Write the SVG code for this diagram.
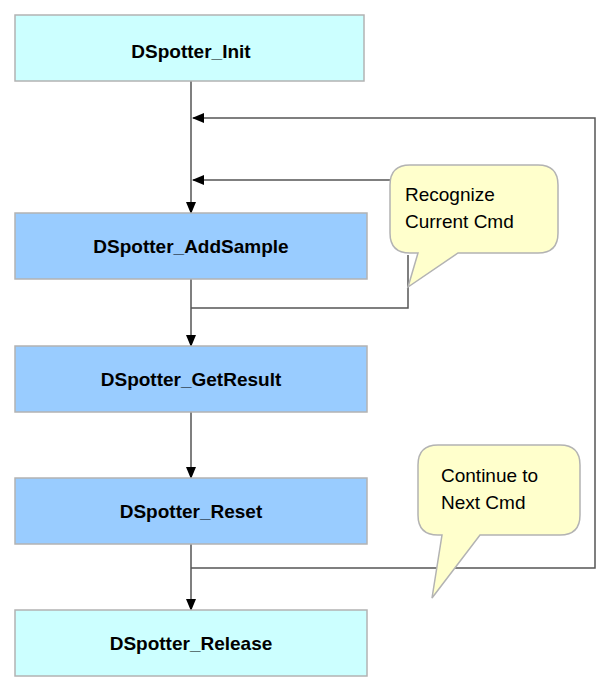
<svg xmlns="http://www.w3.org/2000/svg" width="615" height="692" viewBox="0 0 615 692">
<style>
.box{stroke:#b3b3b3;stroke-width:1.5}
.light{fill:#ccffff}.blue{fill:#99ccff}
.t{font-family:"Liberation Sans",Arial,sans-serif;font-weight:bold;font-size:19px;text-anchor:middle;fill:#000}
.c{font-family:"Liberation Sans",Arial,sans-serif;font-size:19px;fill:#000}
.ln{stroke:#555;stroke-width:1.5;fill:none}
.call{fill:#ffffcc;stroke:#b3b3b3;stroke-width:1.5}
</style>
<defs><marker id="a" markerWidth="12" markerHeight="10" refX="11" refY="5" orient="auto" markerUnits="userSpaceOnUse"><path d="M0,0 L12,5 L0,10 Z" fill="#000"/></marker></defs>
<g id="connectors">
<path class="ln" d="M191,81 V213" marker-end="url(#a)"/>
<path class="ln" d="M191,279 V346" marker-end="url(#a)"/>
<path class="ln" d="M191,412 V478" marker-end="url(#a)"/>
<path class="ln" d="M191,544 V610" marker-end="url(#a)"/>
<path class="ln" d="M191,568 H595 V118 H193" marker-end="url(#a)"/>
<path class="ln" d="M390,180 H193" marker-end="url(#a)"/>
<path class="ln" d="M408,255 V308 H191"/>
</g>
<g id="init"><rect class="box light" x="15" y="15" width="349" height="66"/><text class="t" x="191" y="58">DSpotter_Init</text></g>
<g id="addsample"><rect class="box blue" x="15" y="213" width="352" height="66"/><text class="t" x="191" y="253">DSpotter_AddSample</text></g>
<g id="getresult"><rect class="box blue" x="15" y="346" width="352" height="66"/><text class="t" x="191" y="386">DSpotter_GetResult</text></g>
<g id="reset"><rect class="box blue" x="15" y="478" width="352" height="66"/><text class="t" x="191" y="518">DSpotter_Reset</text></g>
<g id="release"><rect class="box light" x="15" y="610" width="352" height="66"/><text class="t" x="191" y="650">DSpotter_Release</text></g>
<g id="callout1"><path class="call" d="M410,165 H538 Q558,165 558,185 V233 Q558,253 538,253 H458 L408,287 L418,253 H410 Q390,253 390,233 V185 Q390,165 410,165 Z"/><text class="c" x="405" y="201">Recognize</text><text class="c" x="405" y="228">Current Cmd</text></g>
<g id="callout2"><path class="call" d="M438,445 H560 Q580,445 580,465 V515 Q580,535 560,535 H480 L432,598 L442,535 H438 Q418,535 418,515 V465 Q418,445 438,445 Z"/><text class="c" x="441" y="482">Continue to</text><text class="c" x="441" y="509">Next Cmd</text></g>
</svg>
